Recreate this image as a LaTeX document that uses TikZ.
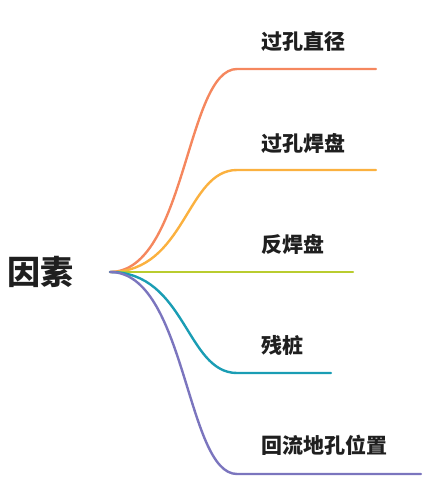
\documentclass[tikz,border=0pt]{standalone}
\usepackage{fontspec}
\newfontfamily\cjk{Noto Sans CJK SC}
\usepackage{tikz}
\usetikzlibrary{calc, positioning}
\definecolor{brOrange}{HTML}{F5875E}
\definecolor{brYellow}{HTML}{FBB13F}
\definecolor{brGreen}{HTML}{B9CC2F}
\definecolor{brTeal}{HTML}{1A9DB4}
\definecolor{brPurple}{HTML}{7B75BE}
\tikzset{
    topic/.style={font=\cjk\bfseries\fontsize{33}{38}\selectfont, text=black!88, inner sep=0pt},
    leaf/.style={font=\cjk\bfseries\fontsize{21}{25}\selectfont, text=black!88, inner sep=0pt, anchor=west},
    branch/.style={line width=2.4pt, line cap=round}
}

\begin{document}
\begin{tikzpicture}[x=1pt, y=-1pt]
        \useasboundingbox (0,0) rectangle (435,501);

        % --- ROOT ---
        \node[topic] (root) at (40,272) {因素};
        \coordinate (hub) at (110,272);
        \coordinate (ctl) at (186,0);       % x of the curve handles

        % --- BRANCH 1 ---
        \coordinate (b1) at (237,69);
        \coordinate (e1) at (376,69);
        \draw[branch, brOrange] (hub) .. controls (ctl |- hub) and (ctl |- b1) .. (b1) -- (e1);
        \node[leaf] (t1) at (261,42) {过孔直径};

        % --- BRANCH 2 ---
        \coordinate (b2) at (237,170);
        \coordinate (e2) at (376,170);
        \draw[branch, brYellow] (hub) .. controls (ctl |- hub) and (ctl |- b2) .. (b2) -- (e2);
        \node[leaf] (t2) at (261,143) {过孔焊盘};

        % --- BRANCH 3 ---
        \coordinate (e3) at (353,272);
        \draw[branch, brGreen] (hub) -- (e3);
        \node[leaf] (t3) at (261,244) {反焊盘};

        % --- BRANCH 4 ---
        \coordinate (b4) at (237,373);
        \coordinate (e4) at (331,373);
        \draw[branch, brTeal] (hub) .. controls (ctl |- hub) and (ctl |- b4) .. (b4) -- (e4);
        \node[leaf] (t4) at (261,345) {残桩};

        % --- BRANCH 5 ---
        \coordinate (b5) at (237,474);
        \coordinate (e5) at (421,474);
        \draw[branch, brPurple] (hub) .. controls (ctl |- hub) and (ctl |- b5) .. (b5) -- (e5);
        \node[leaf] (t5) at (261,445) {回流地孔位置};

    \end{tikzpicture}
\end{document}
